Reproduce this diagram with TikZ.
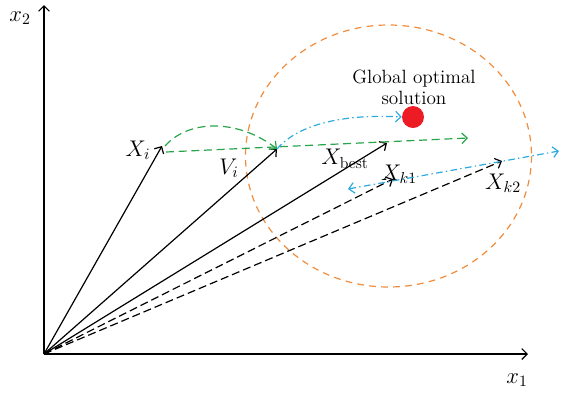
\RequirePackage{fix-cm}
\documentclass[tikz,border=0pt]{standalone}
\usepackage{amsmath,amssymb}
\usepackage{xcolor}
\usepackage{tikz}
\usetikzlibrary{arrows.meta, positioning, calc}

\definecolor{pgreen}{RGB}{40,165,75}
\definecolor{pblue}{RGB}{45,170,225}
\definecolor{porange}{RGB}{240,140,60}
\definecolor{pred}{RGB}{237,28,36}

\begin{document}
\begin{tikzpicture}[x=0.75pt, y=-0.75pt,
  font=\fontsize{14.4}{16}\selectfont,
  lab/.style={font=\fontsize{17}{19}\selectfont, inner sep=1pt},
  tip/.style={-{Straight Barb[length=4pt,width=8pt]}},
  vec/.style={tip, line width=0.9pt, black},
  dvec/.style={vec, dash pattern=on 6pt off 3pt},
  gmove/.style={tip, line width=0.9pt, pgreen, dash pattern=on 6pt off 3.5pt},
  bmove/.style={tip, line width=0.9pt, pblue, dash pattern=on 5pt off 2.5pt on 1pt off 2.5pt}]
\useasboundingbox (0,0) rectangle (562,394);

% axes
\coordinate (O) at (44,354);
\coordinate (x1end) at (528,354);
\coordinate (x2end) at (44,5);
\draw[vec] (O) -- (x1end);
\draw[vec] (O) -- (x2end);
\node[lab] (x1lab) at (517,380) {$x_1$};
\node[lab] (x2lab) at (20,18) {$x_2$};

% search region
\draw[porange, line width=0.9pt, dash pattern=on 5pt off 4pt] (388.5,156) ellipse (143 and 131);
\node[circle, fill=pred, minimum size=16.5pt, inner sep=0pt] (gbest) at (413,117) {};
\node[align=center] (goal) at (414,87) {Global optimal\\[0pt]solution};

% position vectors
\coordinate (Xi) at (162,146);
\coordinate (Vi) at (277,149);
\coordinate (Xb) at (387,143);
\coordinate (Xk1) at (393,179);
\coordinate (Xk2) at (502,161);
\draw[vec] (O) -- (Xi);
\draw[vec] (O) -- (Vi);
\draw[vec] (O) -- (Xb);
\draw[dvec] (O) -- (Xk1);
\draw[dvec] (O) -- (Xk2);

\node[lab] (Xilab) at (138,150) {$X_i$};
\node[lab] (Vilab) at (229,168) {$V_i$};
\node[lab] (Xblab) at (345,159) {$X_{\text{best}}$};
\node[lab] (Xk1lab) at (399,174) {$X_{k1}$};
\node[lab] (Xk2lab) at (503,183) {$X_{k2}$};

% movements
\coordinate (gend) at (468,138);
\coordinate (bl) at (348,189);
\coordinate (br) at (559,151);
\draw[gmove] ($(Xi)+(4,6)$) -- (gend);
\draw[gmove] ($(Xi)+(3,0)$) .. controls (190,118) and (240,120) .. (Vi);
\draw[bmove] (Vi) .. controls (300,122) and (350,114) .. (gbest.west);
\draw[bmove, {Straight Barb[length=4pt,width=8pt]}-{Straight Barb[length=4pt,width=8pt]}] (bl) -- (br);
\end{tikzpicture}
\end{document}
